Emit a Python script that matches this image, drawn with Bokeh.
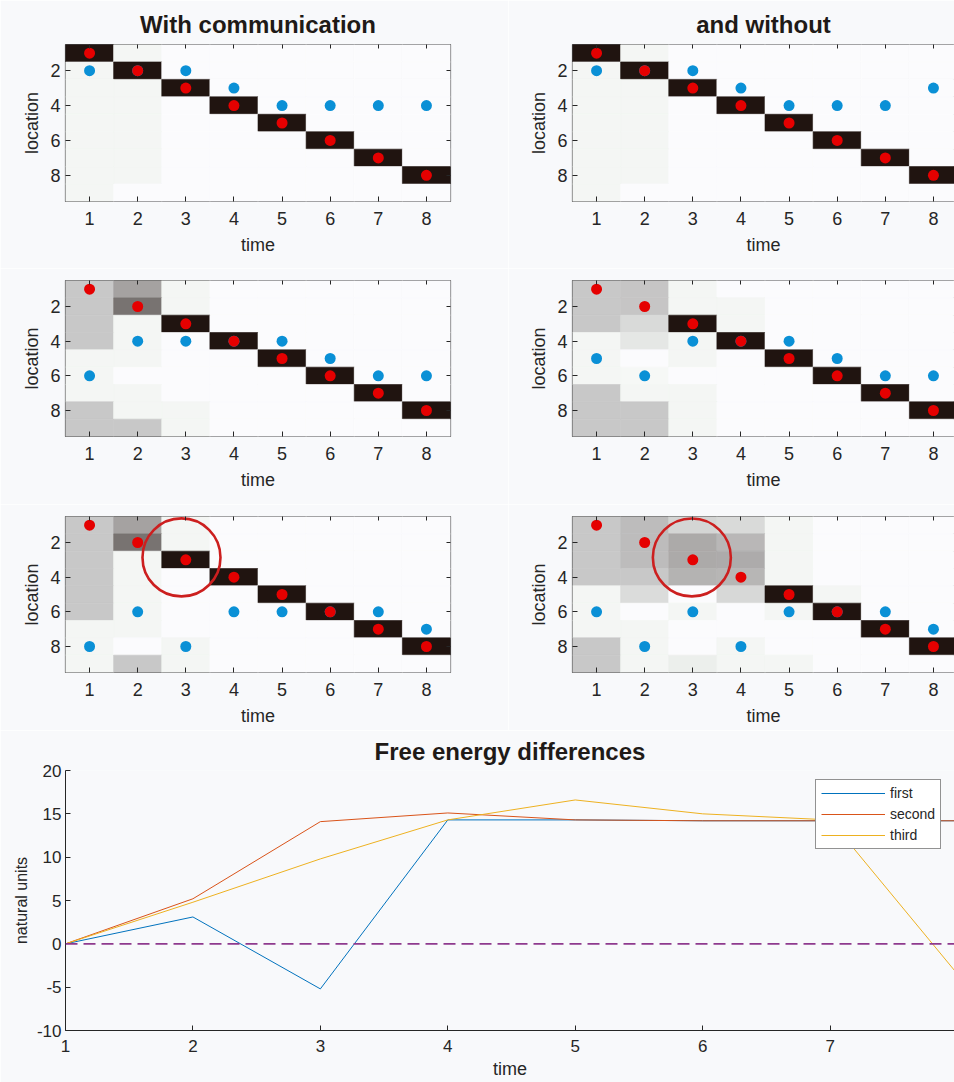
from bokeh.plotting import figure
from bokeh.models import (ColumnDataSource, LinearColorMapper, FixedTicker, Range1d,
                          Legend, LegendItem, Span, LinearAxis)
from bokeh.layouts import column, row
from bokeh.embed import file_html
from bokeh.resources import INLINE

# ---------------- data ----------------
time_steps = [1, 2, 3, 4, 5, 6, 7, 8]
locations = [1, 2, 3, 4, 5, 6, 7, 8, 9]
location_ticks = [2, 4, 6, 8]

own_location = [1, 2, 3, 4, 5, 6, 7, 8]          # red dots
other_with_first = [2, 2, 2, 3, 4, 4, 4, 4]        # blue dots
other_without_first = [2, 2, 2, 3, 4, 4, 4, 3]
other_with_second = [6, 4, 4, 4, 4, 5, 6, 6]
other_without_second = [5, 6, 4, 4, 4, 5, 6, 6]
other_with_third = [8, 6, 8, 6, 6, 6, 6, 7]
other_without_third = [6, 8, 6, 8, 6, 6, 6, 7]

# beliefs: rows = location 1..9, columns = time 1..8
belief_with_first = [
    [1.00, 0.03, 0, 0, 0, 0, 0, 0],
    [0.03, 1.00, 0, 0, 0, 0, 0, 0],
    [0.03, 0.03, 1, 0, 0, 0, 0, 0],
    [0.03, 0.03, 0, 1, 0, 0, 0, 0],
    [0.03, 0.03, 0, 0, 1, 0, 0, 0],
    [0.03, 0.03, 0, 0, 0, 1, 0, 0],
    [0.03, 0.03, 0, 0, 0, 0, 1, 0],
    [0.03, 0.03, 0, 0, 0, 0, 0, 1],
    [0.03, 0.00, 0, 0, 0, 0, 0, 0],
]
belief_without_first = [
    [1.00, 0.03, 0, 0, 0, 0, 0, 0],
    [0.03, 1.00, 0, 0, 0, 0, 0, 0],
    [0.03, 0.03, 1, 0, 0, 0, 0, 0],
    [0.03, 0.03, 0, 1, 0, 0, 0, 0],
    [0.03, 0.03, 0, 0, 1, 0, 0, 0],
    [0.03, 0.03, 0, 0, 0, 1, 0, 0],
    [0.03, 0.03, 0, 0, 0, 0, 1, 0],
    [0.03, 0.03, 0, 0, 0, 0, 0, 1],
    [0.03, 0.00, 0, 0, 0, 0, 0, 0],
]
belief_with_second = [
    [0.24, 0.40, 0.03, 0, 0, 0, 0, 0],
    [0.24, 0.60, 0.03, 0, 0, 0, 0, 0],
    [0.24, 0.03, 1.00, 0, 0, 0, 0, 0],
    [0.24, 0.03, 0.00, 1, 0, 0, 0, 0],
    [0.03, 0.03, 0.00, 0, 1, 0, 0, 0],
    [0.03, 0.00, 0.00, 0, 0, 1, 0, 0],
    [0.03, 0.03, 0.00, 0, 0, 0, 1, 0],
    [0.24, 0.03, 0.03, 0, 0, 0, 0, 1],
    [0.24, 0.24, 0.03, 0, 0, 0, 0, 0],
]
belief_without_second = [
    [0.24, 0.25, 0.03, 0.00, 0, 0, 0, 0],
    [0.24, 0.25, 0.03, 0.03, 0, 0, 0, 0],
    [0.24, 0.16, 1.00, 0.03, 0, 0, 0, 0],
    [0.03, 0.10, 0.03, 1.00, 0, 0, 0, 0],
    [0.03, 0.00, 0.03, 0.00, 1, 0, 0, 0],
    [0.03, 0.02, 0.00, 0.00, 0, 1, 0, 0],
    [0.24, 0.03, 0.03, 0.00, 0, 0, 1, 0],
    [0.24, 0.24, 0.03, 0.00, 0, 0, 0, 1],
    [0.24, 0.24, 0.03, 0.00, 0, 0, 0, 0],
]
belief_with_third = [
    [0.24, 0.40, 0.03, 0, 0, 0, 0, 0],
    [0.24, 0.60, 0.03, 0, 0, 0, 0, 0],
    [0.24, 0.03, 1.00, 0, 0, 0, 0, 0],
    [0.24, 0.03, 0.00, 1, 0, 0, 0, 0],
    [0.24, 0.03, 0.00, 0, 1, 0, 0, 0],
    [0.24, 0.03, 0.00, 0, 0, 1, 0, 0],
    [0.03, 0.03, 0.00, 0, 0, 0, 1, 0],
    [0.03, 0.00, 0.03, 0, 0, 0, 0, 1],
    [0.03, 0.24, 0.03, 0, 0, 0, 0, 0],
]
belief_without_third = [
    [0.24, 0.29, 0.18, 0.16, 0.03, 0.00, 0, 0],
    [0.24, 0.29, 0.37, 0.31, 0.03, 0.00, 0, 0],
    [0.24, 0.29, 0.37, 0.36, 0.03, 0.00, 0, 0],
    [0.24, 0.24, 0.33, 0.32, 0.03, 0.00, 0, 0],
    [0.03, 0.15, 0.00, 0.17, 1.00, 0.03, 0, 0],
    [0.03, 0.00, 0.03, 0.00, 0.03, 1.00, 0, 0],
    [0.03, 0.03, 0.00, 0.00, 0.00, 0.00, 1, 0],
    [0.24, 0.03, 0.00, 0.03, 0.00, 0.00, 0, 1],
    [0.24, 0.03, 0.065, 0.03, 0.03, 0.00, 0, 0],
]

highlight_with_time = [2.91]
highlight_with_location = [2.86]
highlight_without_time = [2.98]
highlight_without_location = [2.86]

energy_time = [1, 2, 3, 4, 5, 6, 7, 8]
energy_first = [0, 3.1, -5.2, 14.3, 14.3, 14.2, 14.2, 14.2]
energy_second = [0, 5.2, 14.1, 15.1, 14.3, 14.2, 14.2, 14.2]
energy_third = [0, 4.8, 9.8, 14.3, 16.6, 15.0, 14.3, -3.5]
energy_ticks = [-10, -5, 0, 5, 10, 15, 20]
energy_tick_labels = ["-10", "-5", "0", "5", "10", "15", "20"]
series_names = ["first", "second", "third"]

# ---------------- style ----------------
FONT = "'Liberation Sans', Arial, sans-serif"
BG = "#F8F9FB"
TXT = "#262626"
RED = "#E50000"
BLUE = "#0A90D6"

# colour stops of the belief shading (value, rgb)
STOPS = [(0.0, (251, 251, 253)), (0.03, (243, 246, 243)), (0.24, (200, 200, 200)),
         (1.0, (32, 20, 16))]


def shade(v):
    for (a, ca), (b, cb) in zip(STOPS[:-1], STOPS[1:]):
        if v <= b:
            f = (v - a) / (b - a)
            return "#%02x%02x%02x" % tuple(int(round(ca[i] + (cb[i] - ca[i]) * f)) for i in range(3))
    return "#%02x%02x%02x" % STOPS[-1][1]


palette = [shade(i / 255) for i in range(256)]
mapper = LinearColorMapper(palette=palette, low=0, high=1)


def style_axes(axes, tick_size="18px", label_size="18px"):
    for ax in axes:
        ax.major_label_text_font = FONT
        ax.major_label_text_font_size = tick_size
        ax.major_label_text_color = TXT
        ax.axis_label_text_font = FONT
        ax.axis_label_text_font_size = label_size
        ax.axis_label_text_font_style = "normal"
        ax.axis_label_text_color = TXT
        ax.major_tick_in = 5
        ax.major_tick_out = 0
        ax.minor_tick_line_color = None
        ax.major_tick_line_color = TXT


def mirror_axis(ticks):
    return LinearAxis(ticker=FixedTicker(ticks=ticks),
                      major_label_overrides={t: "" for t in ticks},
                      major_label_standoff=0, axis_line_color=None,
                      major_tick_in=4, major_tick_out=0, major_tick_line_color=TXT,
                      minor_tick_line_color=None)


def heatmap(belief, other, title, right_col, top, height, bottom, hl=None):
    if right_col:
        width, left, right, xmax = 446, 64, 0, 8.4375
    else:
        width, left, right, xmax = 508, 65, 58, 8.5
    p = figure(width=width, height=height, x_range=Range1d(0.5, xmax),
               y_range=Range1d(9.5, 0.5), output_backend="svg", toolbar_location=None,
               min_border_left=left, min_border_right=right, min_border_top=top,
               min_border_bottom=bottom, title=title,
               x_axis_label="time", y_axis_label="location")
    p.border_fill_color = BG
    p.background_fill_color = "#FBFBFD"
    p.outline_line_color = "#555555"
    p.outline_line_width = 1.2
    p.grid.visible = False
    xs, ys, ps = [], [], []
    for li, loc in enumerate(locations):
        for ti, t in enumerate(time_steps):
            xs.append(t)
            ys.append(loc)
            ps.append(belief[li][ti])
    src = ColumnDataSource(dict(t=xs, loc=ys, p=ps))
    p.rect(x="t", y="loc", width=1, height=1, source=src,
           fill_color={"field": "p", "transform": mapper},
           line_color={"field": "p", "transform": mapper}, line_width=0.6)
    p.scatter(time_steps, other, marker="circle", size=11, fill_color=BLUE, line_color=None)
    p.scatter(time_steps, own_location, marker="circle", size=11, fill_color=RED, line_color=None)
    if hl is not None:
        p.scatter(hl[0], hl[1], marker="circle", size=78, fill_color=None,
                  line_color="#CC1F1F", line_width=2.6)
    bottom_axis = p.below[0]
    left_axis = p.left[0]
    bottom_axis.ticker = FixedTicker(ticks=time_steps)
    left_axis.ticker = FixedTicker(ticks=location_ticks)
    bottom_axis.axis_line_color = None
    left_axis.axis_line_color = None
    style_axes([bottom_axis, left_axis], "18px", "18px")
    bottom_axis.major_label_standoff = 10
    bottom_axis.axis_label_standoff = 7
    left_axis.major_label_standoff = 5
    left_axis.axis_label_standoff = 5
    p.add_layout(mirror_axis(time_steps), "above")
    if not right_col:
        p.add_layout(mirror_axis(location_ticks), "right")
    if title:
        p.title.align = "center"
        p.title.text_font = FONT
        p.title.text_font_size = "24px"
        p.title.text_font_style = "bold"
        p.title.text_color = "#1F1A17"
        p.title.standoff = 14
    return p


pA = heatmap(belief_with_first, other_with_first, "With communication", False, 44, 268, 67)
pB = heatmap(belief_without_first, other_without_first, "and without", True, 44, 268, 67)
pC = heatmap(belief_with_second, other_with_second, None, False, 12, 236, 68)
pD = heatmap(belief_without_second, other_without_second, None, True, 12, 236, 68)
pE = heatmap(belief_with_third, other_with_third, None, False, 12, 226, 58,
             (highlight_with_time, highlight_with_location))
pF = heatmap(belief_without_third, other_without_third, None, True, 12, 226, 58,
             (highlight_without_time, highlight_without_location))

# ---------------- free energy line chart ----------------
lp = figure(width=954, height=352, x_range=Range1d(1, 7.976), y_range=Range1d(-10, 20),
            output_backend="svg", toolbar_location=None, min_border_left=65,
            min_border_right=0, min_border_top=39, min_border_bottom=52,
            title="Free energy differences", x_axis_label="time", y_axis_label="natural units")
lp.border_fill_color = BG
lp.background_fill_color = BG
lp.outline_line_color = None
lp.grid.visible = False
lp.add_layout(Span(location=0, dimension="width", line_color="#8E3A8E",
                   line_dash="12 6", line_width=1.8))
r1 = lp.line(energy_time, energy_first, line_color="#0072BD", line_width=1)
r2 = lp.line(energy_time, energy_second, line_color="#D95319", line_width=1)
r3 = lp.line(energy_time, energy_third, line_color="#EDB120", line_width=1)
lp.xaxis.ticker = FixedTicker(ticks=energy_time)
lp.yaxis.ticker = FixedTicker(ticks=energy_ticks)
lp.yaxis.major_label_overrides = {t: s for t, s in zip(energy_ticks, energy_tick_labels)}
style_axes(lp.xaxis, "17px", "18px")
style_axes(lp.yaxis, "17px", "16px")
for ax in lp.axis:
    ax.axis_line_color = TXT
    ax.axis_line_width = 1
lp.xaxis.major_label_standoff = 9
lp.xaxis.axis_label_standoff = 4
lp.yaxis.major_label_standoff = 4
lp.yaxis.axis_label_standoff = 4
lp.title.align = "center"
lp.title.text_font = FONT
lp.title.text_font_size = "24px"
lp.title.text_font_style = "bold"
lp.title.text_color = "#1F1A17"
lp.title.standoff = 11

legend = Legend(items=[LegendItem(label=series_names[0], renderers=[r1]),
                       LegendItem(label=series_names[1], renderers=[r2]),
                       LegendItem(label=series_names[2], renderers=[r3])],
                location=(750, 181), margin=0, padding=5, spacing=5,
                glyph_width=64, glyph_height=14, label_height=14, label_standoff=5,
                label_text_font=FONT, label_text_font_size="14px", label_text_color=TXT,
                border_line_color=TXT, border_line_width=1,
                background_fill_color="#FFFFFF", background_fill_alpha=1)
lp.add_layout(legend)

layout = column(row(pA, pB), row(pC, pD), row(pE, pF), lp)
open("out.html", "w").write(file_html(layout, INLINE))
